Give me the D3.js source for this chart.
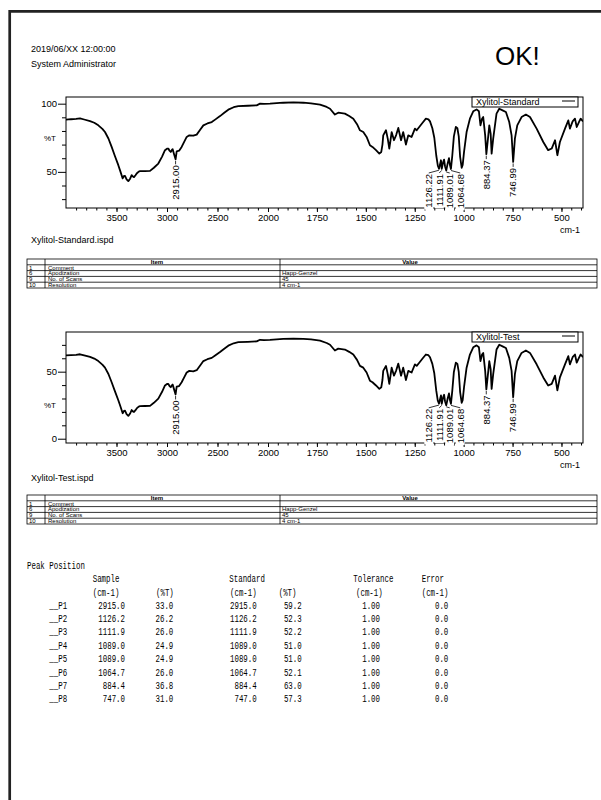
<!DOCTYPE html>
<html>
<head>
<meta charset="utf-8">
<script src="https://cdn.jsdelivr.net/npm/d3@7"></script>
<style>
  body { margin: 0; background: #fff; }
  svg { display: block; }
  text { font-family: 'Liberation Sans', Arial, sans-serif; fill: #000; }
</style>
</head>
<body>
<div id="page"></div>
<script>
// spectrum x values (cm-1), shared by both runs
const wavenumbers = [4000, 3950, 3900, 3861, 3820, 3762, 3720, 3680, 3640, 3614, 3580, 3548, 3515, 3482, 3460, 3439, 3428, 3416, 3400, 3383, 3365, 3350, 3338, 3327, 3312, 3300, 3280, 3267, 3220, 3168, 3130, 3086, 3050, 3020, 3000, 2987, 2975, 2963, 2950, 2944, 2930, 2915, 2904, 2880, 2855, 2830, 2805, 2779, 2740, 2706, 2670, 2640, 2600, 2557, 2520, 2475, 2430, 2393, 2340, 2294, 2200, 2112, 2079, 2040, 1990, 1922, 1870, 1819, 1780, 1734, 1700, 1683, 1658, 1641, 1607, 1585, 1564, 1545, 1530, 1513, 1496, 1479, 1466, 1448, 1431, 1421, 1415, 1411, 1397, 1388, 1380, 1374, 1368, 1356, 1345, 1334, 1320, 1309, 1295, 1283, 1266, 1249, 1240, 1227, 1210, 1193, 1180, 1172, 1160, 1150, 1140, 1132, 1126, 1120, 1116, 1112, 1105, 1100, 1095, 1089, 1082, 1075, 1070, 1065, 1058, 1050, 1040, 1032, 1025, 1018, 1010, 1005, 998, 985, 968, 951, 934, 922, 914, 906, 900, 890, 884, 874, 869, 862, 857, 849, 832, 818, 801, 784, 767, 755, 747, 738, 726, 704, 682, 661, 627, 593, 568, 550, 533, 521, 508, 482, 465, 457, 443, 431, 422, 409, 402, 390]

// %T of the standard
const standardT = [88.3, 88.6, 88.8, 89.2, 88.4, 87.2, 86.0, 84.1, 81.5, 79.2, 74.5, 68.3, 61.5, 54.9, 50.0, 45.2, 46.8, 47.1, 44.5, 43.2, 45.0, 47.6, 46.6, 46.1, 47.5, 48.8, 50.2, 50.5, 50.6, 50.7, 53.0, 56.1, 61.0, 65.9, 67.0, 67.1, 65.5, 64.6, 66.2, 66.6, 63.0, 59.2, 65.1, 65.5, 68.3, 72.0, 75.6, 76.8, 76.5, 77.3, 81.0, 84.1, 85.5, 86.5, 88.5, 90.9, 93.5, 95.6, 97.4, 98.2, 98.5, 98.8, 100.0, 99.8, 100.0, 100.7, 100.9, 100.7, 100.3, 99.3, 97.6, 96.3, 92.0, 93.4, 92.7, 91.0, 89.0, 85.0, 80.5, 79.2, 75.6, 69.5, 68.3, 65.9, 63.4, 64.6, 70.0, 76.8, 80.5, 74.4, 67.1, 73.0, 79.2, 73.2, 77.0, 82.2, 73.2, 79.2, 70.0, 76.8, 75.6, 81.7, 80.5, 82.9, 86.0, 89.0, 88.5, 87.0, 82.0, 75.0, 62.0, 54.5, 52.3, 56.0, 58.5, 52.2, 57.0, 59.0, 54.0, 51.0, 56.0, 60.0, 55.0, 52.1, 62.0, 76.0, 83.0, 82.0, 76.0, 61.0, 53.0, 55.0, 64.6, 79.2, 89.0, 94.4, 95.8, 94.4, 84.1, 89.0, 90.2, 76.8, 63.0, 76.8, 84.1, 78.1, 63.4, 74.4, 92.7, 96.3, 95.1, 93.9, 86.5, 76.8, 57.3, 74.4, 84.1, 90.2, 92.0, 90.2, 81.7, 71.9, 65.9, 67.1, 73.2, 62.2, 71.9, 81.7, 87.8, 81.7, 87.0, 89.0, 82.9, 87.0, 89.0, 87.0]

// %T of the test sample
const testT = [62.1, 62.4, 62.6, 63.0, 62.2, 61.0, 59.8, 57.9, 55.3, 53.0, 48.3, 42.1, 35.3, 28.7, 23.8, 19.0, 20.6, 20.9, 18.3, 17.0, 18.8, 21.4, 20.4, 19.9, 21.3, 22.6, 24.0, 24.3, 24.4, 24.5, 26.8, 29.9, 34.8, 39.7, 40.8, 40.9, 39.3, 38.4, 40.0, 40.4, 36.8, 33.0, 38.9, 39.3, 42.1, 45.8, 49.4, 50.6, 50.3, 51.1, 54.8, 57.9, 59.3, 60.3, 62.3, 64.7, 67.3, 69.4, 71.2, 72.0, 72.3, 72.6, 73.8, 73.6, 73.8, 74.5, 74.7, 74.5, 74.1, 73.1, 71.4, 70.1, 65.8, 67.2, 66.5, 64.8, 62.8, 58.8, 54.3, 53.0, 49.4, 43.3, 42.1, 39.7, 37.2, 38.4, 43.8, 50.6, 54.3, 48.2, 40.9, 46.8, 53.0, 47.0, 50.8, 56.0, 47.0, 53.0, 43.8, 50.6, 49.4, 55.5, 54.3, 56.7, 59.8, 62.8, 62.3, 60.8, 55.8, 48.8, 35.8, 28.3, 26.2, 29.8, 32.3, 26.0, 30.8, 32.8, 27.8, 24.9, 29.8, 33.8, 28.8, 26.0, 35.8, 49.8, 56.8, 55.8, 49.8, 34.8, 26.8, 28.8, 38.4, 53.0, 62.8, 68.2, 69.6, 68.2, 57.9, 62.8, 64.0, 50.6, 36.8, 50.6, 57.9, 51.9, 37.2, 48.2, 66.5, 70.1, 68.9, 67.7, 60.3, 50.6, 31.0, 48.2, 57.9, 64.0, 65.8, 64.0, 55.5, 45.7, 39.7, 40.9, 47.0, 36.0, 45.7, 55.5, 61.6, 55.5, 60.8, 62.8, 56.7, 60.8, 62.8, 60.8]

// labelled peaks
const peakWavenumbers = [2915.00, 1126.22, 1111.91, 1089.01, 1064.68, 884.37, 746.99]
const peakLabels = ['2915.00', '1126.22', '1111.91', '1089.01', '1064.68', '884.37', '746.99']

// peak position table
const peakNames = ['__P1', '__P2', '__P3', '__P4', '__P5', '__P6', '__P7', '__P8']
const sampleWn = [2915.0, 1126.2, 1111.9, 1089.0, 1089.0, 1064.7, 884.4, 747.0]
const sampleT = [33.0, 26.2, 26.0, 24.9, 24.9, 26.0, 36.8, 31.0]
const standardWn = [2915.0, 1126.2, 1111.9, 1089.0, 1089.0, 1064.7, 884.4, 747.0]
const standardPeakT = [59.2, 52.3, 52.2, 51.0, 51.0, 52.1, 63.0, 57.3]
const tolerances = [1.00, 1.00, 1.00, 1.00, 1.00, 1.00, 1.00, 1.00]
const errors = [0.0, 0.0, 0.0, 0.0, 0.0, 0.0, 0.0, 0.0]

// measurement parameter table
const paramNums = ['1', '6', '9', '10']
const paramItems = ['Comment', 'Apodization', 'No. of Scans', 'Resolution']
const paramValues = ['', 'Happ-Genzel', '45', '4 cm-1']

// axis ticks
const xTickValues = [3500, 3000, 2500, 2000, 1750, 1500, 1250, 1000, 750, 500]
const stdYTicks = [50, 100]
const stdYMinor = [30, 40, 60, 70, 80, 90]
const testYTicks = [0, 50]
const testYMinor = [10, 20, 30, 40, 60, 70]

const width = 601
const height = 800

const svg = d3
  .select('#page')
  .append('svg')
  .attr('width', width)
  .attr('height', height)

svg.append('rect').attr('width', width).attr('height', height).attr('fill', '#fff')

// page border (left and top)
svg
  .append('path')
  .attr('d', 'M9.7,800 V11.3 H601')
  .attr('fill', 'none')
  .attr('stroke', '#222')
  .attr('stroke-width', 2.7)

svg.append('text').attr('x', 31).attr('y', 51.5).style('font-size', '9px').text('2019/06/XX 12:00:00')
svg.append('text').attr('x', 31).attr('y', 66.5).style('font-size', '9px').text('System Administrator')
svg.append('text').attr('x', 495).attr('y', 65).style('font-size', '26px').text('OK!')

// wavenumber axis is expanded x2 below 2000 cm-1
const xPositionScale = d3
  .scaleLinear()
  .domain([4000, 2000, 390])
  .range([66, 268, 583])

const xMinorTicks = d3.range(3900, 2000, -100).concat(d3.range(1950, 390, -50))

function drawSpectrum(cfg) {
  const yPositionScale = d3
    .scaleLinear()
    .domain(cfg.yDomain)
    .range([cfg.bottom, cfg.top])

  const g = svg.append('g')

  // frame
  g.append('rect')
    .attr('x', 66)
    .attr('y', cfg.top)
    .attr('width', 583 - 66)
    .attr('height', cfg.bottom - cfg.top)
    .attr('fill', 'none')
    .attr('stroke', '#000')
    .attr('stroke-width', 1)

  // x axis
  const xMinor = d3.axisBottom(xPositionScale).tickValues(xMinorTicks).tickSize(2.5).tickFormat('')
  const xMajor = d3
    .axisBottom(xPositionScale)
    .tickValues(xTickValues)
    .tickSize(4)
    .tickPadding(2)
    .tickFormat(d3.format('d'))
  g.append('g').attr('transform', `translate(0,${cfg.bottom})`).call(xMinor)
  g.append('g').attr('class', 'x-major').attr('transform', `translate(0,${cfg.bottom})`).call(xMajor)

  // y axis
  const yMinor = d3.axisLeft(yPositionScale).tickValues(cfg.yMinor).tickSize(4).tickFormat('')
  const yMajor = d3.axisLeft(yPositionScale).tickValues(cfg.yTicks).tickSize(8).tickPadding(1)
  g.append('g').attr('transform', 'translate(66,0)').call(yMinor)
  g.append('g').attr('transform', 'translate(66,0)').call(yMajor)

  g.selectAll('.domain').remove()
  g.selectAll('.tick line').attr('stroke', '#000')
  g.selectAll('.tick text')
    .attr('font-family', 'Liberation Sans, Arial, sans-serif')
    .style('font-size', '9.5px')
    .attr('fill', '#000')

  g.append('text')
    .attr('x', 50)
    .attr('y', yPositionScale(cfg.pctLabelAt))
    .attr('dy', '0.35em')
    .attr('text-anchor', 'middle')
    .style('font-size', '8px')
    .text('%T')

  g.append('text')
    .attr('x', 580)
    .attr('y', cfg.bottom + 24.5)
    .attr('text-anchor', 'end')
    .style('font-size', '9px')
    .text('cm-1')

  // peak labels, spread apart where they crowd
  const peaks = peakWavenumbers
    .map((wn, i) => {
      const k = d3.leastIndex(sampleWn, v => Math.abs(v - wn))
      return {
        label: peakLabels[i],
        px: xPositionScale(wn),
        py: yPositionScale(cfg.peakT[k])
      }
    })
    .sort((a, b) => a.px - b.px)

  const minGap = 10.5
  const groups = []
  let cur = [peaks[0]]
  for (let i = 1; i < peaks.length; i++) {
    if (peaks[i].px - peaks[i - 1].px < minGap) {
      cur.push(peaks[i])
    } else {
      groups.push(cur)
      cur = [peaks[i]]
    }
  }
  groups.push(cur)
  groups.forEach(gr => {
    const cx = d3.mean(gr, p => p.px)
    const top = d3.max(gr, p => p.py) + (gr.length > 1 ? 3.5 : 6)
    gr.forEach((p, i) => {
      p.lx = cx + (i - (gr.length - 1) / 2) * minGap
      p.top = top
    })
  })

  const bgG = g.append('g')
  const curveG = g.append('g')
  const labelG = g.append('g')

  peaks.forEach(p => {
    const t = labelG
      .append('text')
      .attr('transform', `translate(${p.lx},${p.top}) rotate(-90)`)
      .attr('text-anchor', 'end')
      .attr('dy', '0.35em')
      .style('font-size', '9.5px')
      .text(p.label)
    const len = t.node().getComputedTextLength()
    bgG
      .append('rect')
      .attr('x', p.lx - 4.5)
      .attr('y', p.top - 1)
      .attr('width', 9)
      .attr('height', len + 3)
      .attr('fill', '#fff')
    labelG
      .append('path')
      .attr('d', `M${p.px},${p.py + 1.5} L${p.lx},${p.top - 1}`)
      .attr('fill', 'none')
      .attr('stroke', '#000')
      .attr('stroke-width', 0.8)
  })

  // spectrum
  const clipId = 'clip-' + cfg.top
  g.append('clipPath')
    .attr('id', clipId)
    .append('rect')
    .attr('x', 66)
    .attr('y', cfg.top)
    .attr('width', 583 - 66)
    .attr('height', cfg.bottom - cfg.top)

  const line = d3
    .line()
    .x(d => xPositionScale(d[0]))
    .y(d => yPositionScale(d[1]))

  curveG
    .append('path')
    .datum(wavenumbers.map((w, i) => [w, cfg.values[i]]))
    .attr('clip-path', `url(#${clipId})`)
    .attr('d', line)
    .attr('fill', 'none')
    .attr('stroke', '#000')
    .attr('stroke-width', 1.8)
    .attr('stroke-linejoin', 'round')

  // legend
  g.append('rect')
    .attr('x', 472)
    .attr('y', cfg.top)
    .attr('width', 106)
    .attr('height', 10)
    .attr('fill', '#fff')
    .attr('stroke', '#000')
    .attr('stroke-width', 1)
  g.append('text')
    .attr('x', 476)
    .attr('y', cfg.top + 8.3)
    .style('font-size', '9px')
    .text(cfg.legend)
  g.append('line')
    .attr('x1', 562)
    .attr('x2', 575)
    .attr('y1', cfg.top + 4)
    .attr('y2', cfg.top + 4)
    .attr('stroke', '#000')
    .attr('stroke-width', 1)

  svg.append('text')
    .attr('x', 31)
    .attr('y', cfg.fileY)
    .style('font-size', '9px')
    .text(cfg.legend + '.ispd')
}

function drawParamTable(top) {
  const rowH = 5.8
  const left = 27
  const right = 597
  const g = svg.append('g')
  const rows = paramNums.length + 1

  g.append('rect')
    .attr('x', left)
    .attr('y', top)
    .attr('width', right - left)
    .attr('height', rows * rowH)
    .attr('fill', 'none')
    .attr('stroke', '#000')
    .attr('stroke-width', 0.8)

  for (let i = 1; i < rows; i++) {
    g.append('line')
      .attr('x1', left)
      .attr('x2', right)
      .attr('y1', top + i * rowH)
      .attr('y2', top + i * rowH)
      .attr('stroke', '#000')
      .attr('stroke-width', 0.8)
  }
  ;[45, 280].forEach(xv => {
    g.append('line')
      .attr('x1', xv)
      .attr('x2', xv)
      .attr('y1', top)
      .attr('y2', top + rows * rowH)
      .attr('stroke', '#000')
      .attr('stroke-width', 0.8)
  })

  g.append('text')
    .attr('x', 157)
    .attr('y', top + 4.9)
    .attr('text-anchor', 'middle')
    .style('font-size', '6px')
    .style('font-weight', 'bold')
    .text('Item')
  g.append('text')
    .attr('x', 410)
    .attr('y', top + 4.9)
    .attr('text-anchor', 'middle')
    .style('font-size', '6px')
    .style('font-weight', 'bold')
    .text('Value')

  paramNums.forEach((n, i) => {
    const yv = top + (i + 1) * rowH + 4.8
    g.append('text').attr('x', 29).attr('y', yv).style('font-size', '6px').text(n)
    g.append('text').attr('x', 48).attr('y', yv).style('font-size', '6px').text(paramItems[i])
    g.append('text').attr('x', 282).attr('y', yv).style('font-size', '6px').text(paramValues[i])
  })
}

drawSpectrum({
  top: 97,
  bottom: 208,
  yDomain: [23.5, 104.9],
  yTicks: stdYTicks,
  yMinor: stdYMinor,
  pctLabelAt: 75,
  values: standardT,
  peakT: standardPeakT,
  legend: 'Xylitol-Standard',
  fileY: 243
})
drawParamTable(259)

drawSpectrum({
  top: 332,
  bottom: 443,
  yDomain: [-3.2, 79.6],
  yTicks: testYTicks,
  yMinor: testYMinor,
  pctLabelAt: 25,
  values: testT,
  peakT: sampleT,
  legend: 'Xylitol-Test',
  fileY: 481
})
drawParamTable(495)

// Peak Position listing (condensed monospace)
const charW = 4.45
function mono(xv, yv, str, anchor) {
  const w = str.length * charW
  const x0 = anchor === 'end' ? xv - w : xv
  svg
    .append('text')
    .attr('x', x0)
    .attr('y', yv)
    .attr('textLength', w)
    .attr('lengthAdjust', 'spacingAndGlyphs')
    .style('font-family', 'Liberation Mono, monospace')
    .style('font-size', '10px')
    .text(str)
}

mono(27, 568.5, 'Peak Position')
mono(92.7, 581.5, 'Sample')
mono(229.3, 581.5, 'Standard')
mono(353.3, 581.5, 'Tolerance')
mono(421.7, 581.5, 'Error')
mono(92.7, 595.5, '(cm-1)')
mono(156, 595.5, '(%T)')
mono(230, 595.5, '(cm-1)')
mono(278.7, 595.5, '(%T)')
mono(356, 595.5, '(cm-1)')
mono(421.7, 595.5, '(cm-1)')

peakNames.forEach((name, i) => {
  const yv = 608.5 + i * 13.4
  mono(49.3, yv, name)
  mono(125, yv, sampleWn[i].toFixed(1), 'end')
  mono(173.3, yv, sampleT[i].toFixed(1), 'end')
  mono(256.7, yv, standardWn[i].toFixed(1), 'end')
  mono(301.7, yv, standardPeakT[i].toFixed(1), 'end')
  mono(380, yv, tolerances[i].toFixed(2), 'end')
  mono(448.3, yv, errors[i].toFixed(1), 'end')
})
</script>
</body>
</html>
